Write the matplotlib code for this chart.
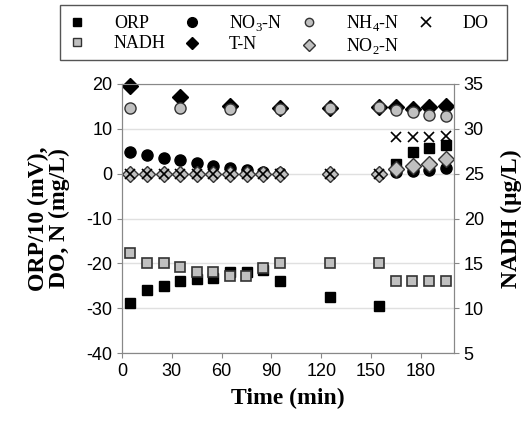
import numpy as np
import matplotlib.pyplot as plt
from matplotlib.lines import Line2D
from matplotlib.patches import Rectangle

plt.rcParams['mathtext.fontset'] = 'custom'
plt.rcParams['mathtext.rm'] = 'Liberation Serif'
plt.rcParams['axes.unicode_minus'] = False

# time of each sample (min)
t = [5, 15, 25, 35, 45, 55, 65, 75, 85, 95, 125, 155, 165, 175, 185, 195]

orp = [-28.8, -26, -25, -24, -23.6, -23.3, -22, -22, -21.5, -24, -27.5, -29.5,
       2.2, 4.8, 5.8, 6.3]
nadh = [16.1, 15, 15, 14.6, 14, 14, 13.6, 13.6, 14.5, 15, 15, 15, 13, 13, 13, 13]
no3 = [4.8, 4.2, 3.5, 3.1, 2.4, 1.8, 1.2, 0.9, 0.4, 0.2, 0, 0, 0.3, 0.6, 0.9, 1.2]
no2 = [0, 0, 0, 0, 0, 0, 0, 0, 0, 0, 0, 0, 1.0, 1.6, 2.2, 3.2]
do = [0, 0, 0, 0, 0, 0, 0, 0, 0, 0, 0, 0, 8.2, 8.1, 8.2, 8.3]

# T-N and NH4-N only sampled at some times
t_n = [5, 35, 65, 95, 125, 155, 165, 175, 185, 195]
tn = [19.6, 17.2, 15.1, 14.6, 14.7, 14.9, 14.8, 14.5, 14.8, 15.2]
nh4 = [14.7, 14.7, 14.5, 14.4, 14.7, 14.8, 14.3, 13.7, 13.1, 12.9]

gray = '#c0c0c0'
fig = plt.figure(figsize=(5.32, 4.22), dpi=100)
ax = fig.add_axes([122/532, 1-353/422, 332/532, 269/422])

ax.plot(t, orp, 's', color='black', ms=7, zorder=3)
ax.plot(t, no3, 'o', color='black', ms=8, zorder=3)
ax.plot(t_n, tn, 'D', color='black', ms=8, zorder=3, clip_on=False)
ax.plot(t_n, nh4, 'o', mfc=gray, mec='#333333', mew=1, ms=8, zorder=4)
ax.plot(t, no2, 'D', mfc=gray, mec='#333333', mew=1, ms=8, zorder=4)
ax.plot(t, do, 'x', color='black', ms=7, mew=1.2, zorder=5)

ax.set_xlim(0, 200)
ax.set_ylim(-40, 20)
ax.set_xticks([0, 30, 60, 90, 120, 150, 180])
ax.set_yticks(np.arange(-40, 21, 10))
ax.grid(axis='y', color='#e0e0e0', lw=1)
ax.set_axisbelow(True)

ax2 = ax.twinx()
ax2.plot(t, nadh, 's', mfc=gray, mec='#333333', mew=1.2, ms=7)
ax2.set_ylim(5, 35)
ax2.set_yticks(np.arange(5, 36, 5))

for a in (ax, ax2):
    for s in a.spines.values():
        s.set_color('#888888')
    a.tick_params(direction='out', color='#888888', labelsize=13,
                  labelfontfamily='Liberation Sans')
ax.spines['top'].set_color('#bbbbbb')

lab = dict(family='Liberation Serif', weight='bold', size=17)
ax.set_xlabel('Time (min)', labelpad=6, **lab)
ax.set_ylabel('ORP/10 (mV),\nDO, N (mg/L)', labelpad=12, linespacing=0.95, **lab)
ax2.set_ylabel('NADH (μg/L)', labelpad=12, **lab)

handles = [
    Line2D([], [], ls='', marker='s', color='black', ms=6),
    Line2D([], [], ls='', marker='s', mfc=gray, mec='#333333', ms=6),
    Line2D([], [], ls='', marker='o', color='black', ms=7),
    Line2D([], [], ls='', marker='D', color='black', ms=6),
    Line2D([], [], ls='', marker='o', mfc=gray, mec='#333333', ms=6),
    Line2D([], [], ls='', marker='D', mfc=gray, mec='#333333', ms=6),
    Line2D([], [], ls='', marker='x', color='black', ms=7, mew=1.2),
]
labels = ['ORP', 'NADH', 'NO$_3$-N', 'T-N', 'NH$_4$-N', 'NO$_2$-N', 'DO']
fig.legend(handles, labels, ncol=4, loc='upper left',
           bbox_to_anchor=(56/532, 1-58/422, 440/532, 52/422),
           mode='expand', borderaxespad=0, frameon=False,
           handletextpad=1.3, handlelength=1.5, labelspacing=0.15,
           prop=dict(family='Liberation Serif', size=13))
fig.patches.append(Rectangle((60/532, 1-60/422), 447/532, 55/422,
                             transform=fig.transFigure, fill=False,
                             ec='#555555', lw=1))

fig.savefig('out.png', dpi=100)
